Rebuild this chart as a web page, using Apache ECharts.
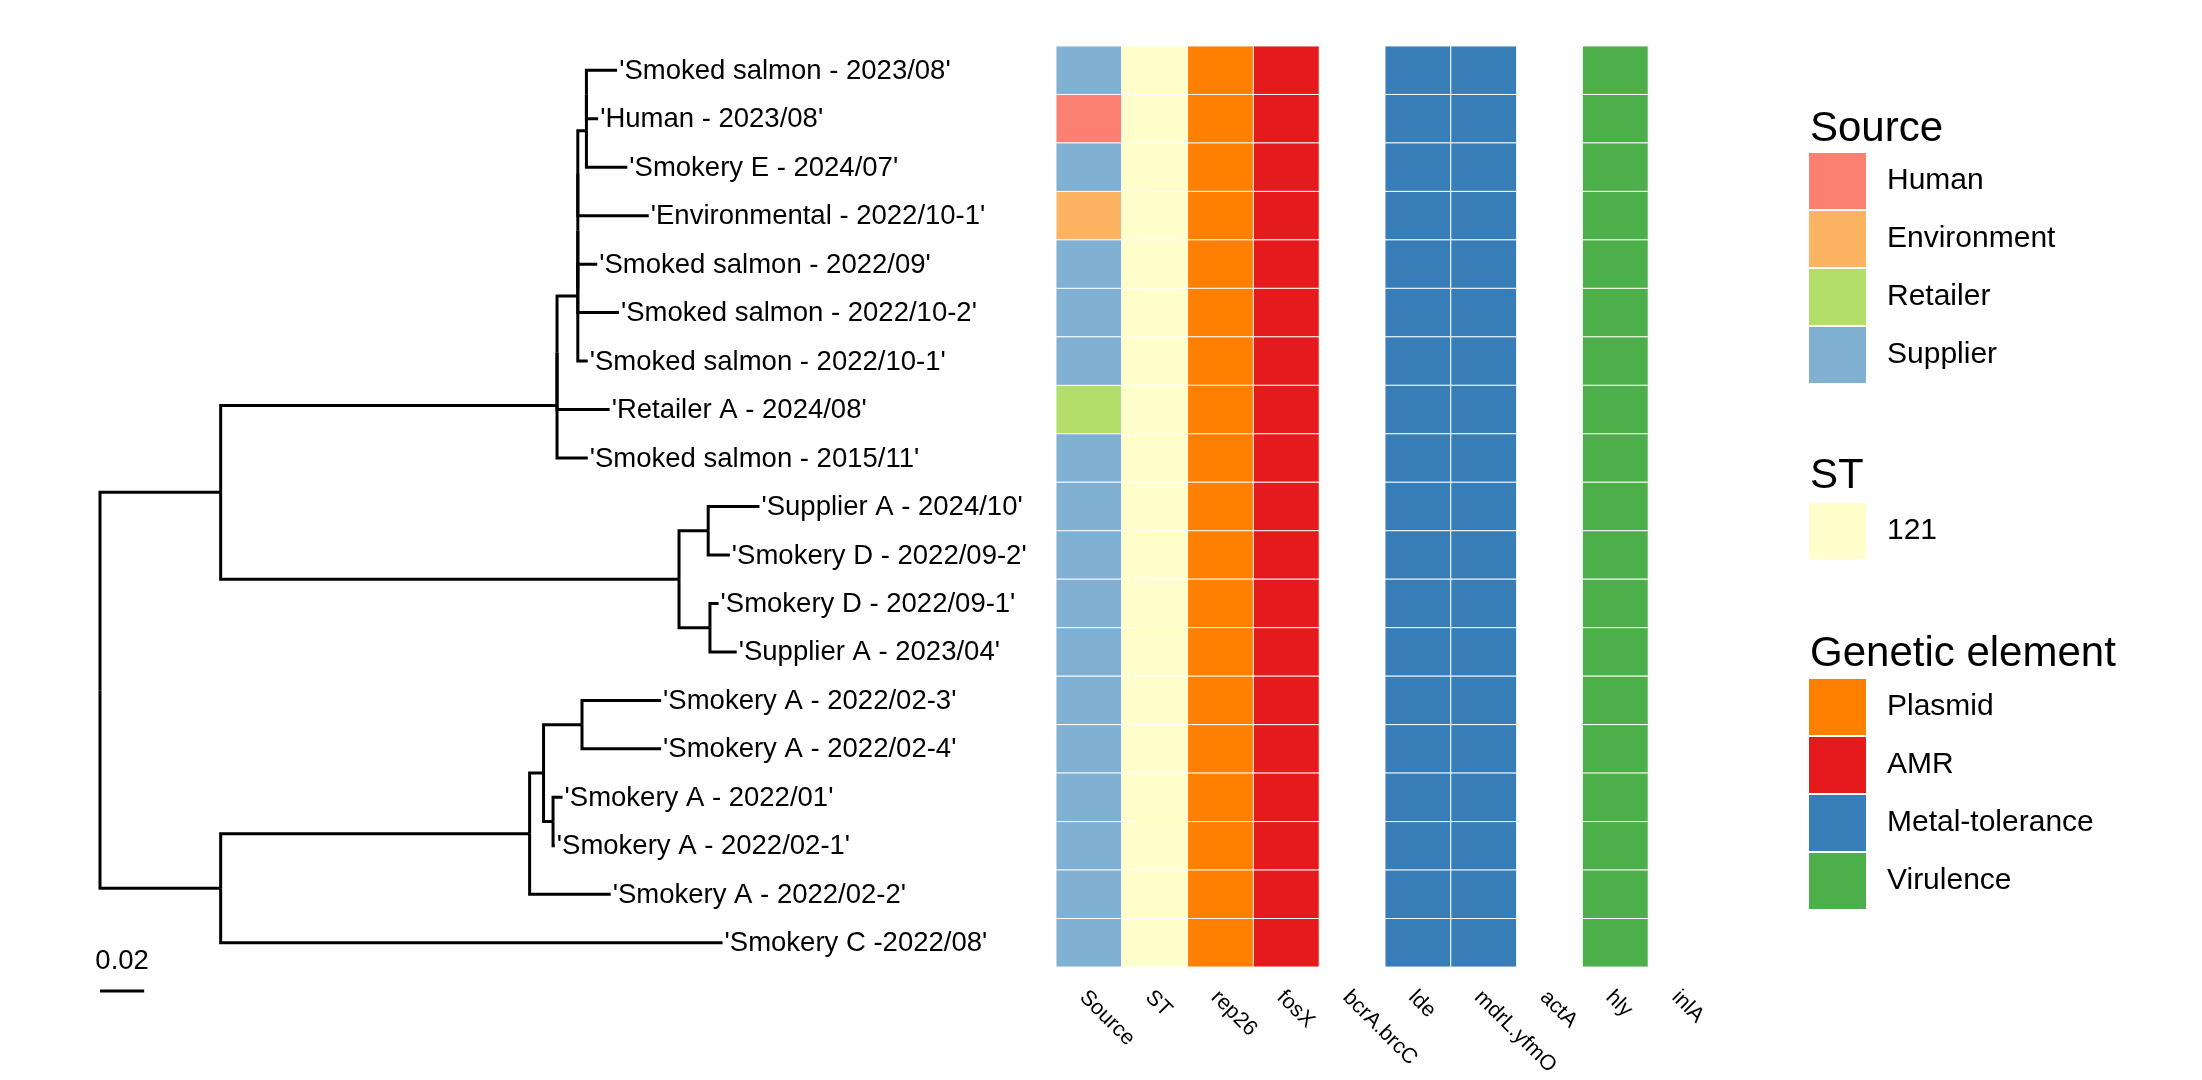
<!DOCTYPE html>
<html>
<head>
<meta charset="utf-8">
<script src="https://cdn.jsdelivr.net/npm/echarts@6/dist/echarts.min.js"></script>
<style>
html,body{margin:0;padding:0;background:#ffffff;}
#chart{width:2202px;height:1080px;}
</style>
</head>
<body>
<div id="chart"></div>
<script>
// ---------------- DATA ----------------
// Tip labels, in plotted row order (top to bottom)
const tipLabels = [
  "'Smoked salmon - 2023/08'",
  "'Human - 2023/08'",
  "'Smokery E - 2024/07'",
  "'Environmental - 2022/10-1'",
  "'Smoked salmon - 2022/09'",
  "'Smoked salmon - 2022/10-2'",
  "'Smoked salmon - 2022/10-1'",
  "'Retailer A - 2024/08'",
  "'Smoked salmon - 2015/11'",
  "'Supplier A - 2024/10'",
  "'Smokery D - 2022/09-2'",
  "'Smokery D - 2022/09-1'",
  "'Supplier A - 2023/04'",
  "'Smokery A - 2022/02-3'",
  "'Smokery A - 2022/02-4'",
  "'Smokery A - 2022/01'",
  "'Smokery A - 2022/02-1'",
  "'Smokery A - 2022/02-2'",
  "'Smokery C -2022/08'"
];
// Tree edges (child, parent, branch length); tips are t0..t18 (row index)
const edgeChild  = ['A','B','N1','X1','S1','P1','P2','P3','S2','P4','t0','t1','t2','t3','t4','t5','t6','t7','t8',
                    'C2','T1','T2','t9','t10','t11','t12',
                    'U1','U2','U3','U4','t13','t14','t15','t16','t17','t18'];
const edgeParent = ['root','root','A','N1','X1','S1','P1','P1','P2','S2','P4','P4','S2','P2','P3','P3','S1','X1','N1',
                    'A','C2','C2','T1','T1','T2','T2',
                    'B','U1','U2','U2','U3','U3','U4','U4','U1','B'];
const edgeLength = [0.0546,0.0546,0.1522,0,0.0094,0,0,0,0.0039,0,0.0139,0.0053,0.0185,0.0321,0.0088,0.0186,0.0045,0.0238,0.0139,
                    0.2074,0.0132,0.0140,0.0232,0.0098,0.0039,0.0121,
                    0.1398,0.0063,0.0174,0.0043,0.0358,0.0358,0.0043,0.0008,0.0367,0.2271];
const scaleBarLength = 0.02;
const scaleBarLabel = '0.02';

// Heatmap
const heatmapColumns = ['Source','ST','rep26','fosX','bcrA.brcC','lde','mdrL.yfmO','actA','hly','inlA'];
const sourceCategories = ['Human','Environment','Retailer','Supplier'];
const sourceColors = ['#FB8072','#FDB462','#B3DE69','#80B1D3'];
const sourceByTip = ['Supplier','Human','Supplier','Environment','Supplier','Supplier','Supplier','Retailer','Supplier',
                     'Supplier','Supplier','Supplier','Supplier','Supplier','Supplier','Supplier','Supplier','Supplier','Supplier'];
const stCategories = ['121'];
const stColors = ['#FFFFCC'];
const stByTip = ['121','121','121','121','121','121','121','121','121','121','121','121','121','121','121','121','121','121','121'];
const elementCategories = ['Plasmid','AMR','Metal-tolerance','Virulence'];
const elementColors = ['#FF7F00','#E41A1C','#377EB8','#4DAF4A'];
const geneColumns = ['rep26','fosX','bcrA.brcC','lde','mdrL.yfmO','actA','hly','inlA'];
const geneElement = ['Plasmid','AMR','Metal-tolerance','Metal-tolerance','Metal-tolerance','Virulence','Virulence','Virulence'];
const rep26Present   = [1,1,1,1,1,1,1,1,1,1,1,1,1,1,1,1,1,1,1];
const fosXPresent    = [1,1,1,1,1,1,1,1,1,1,1,1,1,1,1,1,1,1,1];
const bcrABrcCPresent= [0,0,0,0,0,0,0,0,0,0,0,0,0,0,0,0,0,0,0];
const ldePresent     = [1,1,1,1,1,1,1,1,1,1,1,1,1,1,1,1,1,1,1];
const mdrLYfmOPresent= [1,1,1,1,1,1,1,1,1,1,1,1,1,1,1,1,1,1,1];
const actAPresent    = [0,0,0,0,0,0,0,0,0,0,0,0,0,0,0,0,0,0,0];
const hlyPresent     = [1,1,1,1,1,1,1,1,1,1,1,1,1,1,1,1,1,1,1];
const inlAPresent    = [0,0,0,0,0,0,0,0,0,0,0,0,0,0,0,0,0,0,0];
const genePresence = [rep26Present,fosXPresent,bcrABrcCPresent,ldePresent,mdrLYfmOPresent,actAPresent,hlyPresent,inlAPresent];

// ---------------- TREE LAYOUT ----------------
const FONT = "'Liberation Sans', Arial, Helvetica, sans-serif";
const kids = {};
const lenOf = {};
edgeChild.forEach((c, i) => { (kids[edgeParent[i]] = kids[edgeParent[i]] || []).push(c); lenOf[c] = edgeLength[i]; });
const depth = { root: 0 };
const ypos = {};
function layout(node) {
  if (kids[node]) {
    let s = 0;
    kids[node].forEach(c => { depth[c] = depth[node] + lenOf[c]; layout(c); s += ypos[c]; });
    ypos[node] = s / kids[node].length;
  } else {
    ypos[node] = parseInt(node.slice(1), 10);
  }
}
layout('root');
const edgeData = edgeChild.map((c, i) => {
  const p = edgeParent[i];
  return [depth[p], ypos[p], depth[c], ypos[c]];
});
const tipData = tipLabels.map((l, i) => [depth['t' + i], i, i]);

// ---------------- HEATMAP DATA ----------------
const rows = tipLabels.map((_, i) => String(i));
const heatSeries = [];
function cellSeries(name, color, cells) {
  heatSeries.push({
    name: name, type: 'custom', xAxisIndex: 1, yAxisIndex: 1,
    itemStyle: { color: color },
    data: cells,
    renderItem: function (params, api) {
      const c = api.coord([api.value(0), api.value(1)]);
      const sz = api.size([1, 1]);
      return {
        type: 'rect',
        shape: { x: c[0] - sz[0] / 2, y: c[1] - sz[1] / 2, width: sz[0], height: sz[1] },
        style: { fill: color, stroke: '#ffffff', lineWidth: 0.9 }
      };
    }
  });
}
sourceCategories.forEach((cat, k) => {
  const cells = [];
  sourceByTip.forEach((s, i) => { if (s === cat) cells.push([0, i]); });
  cellSeries(cat, sourceColors[k], cells);
});
stCategories.forEach((cat, k) => {
  const cells = [];
  stByTip.forEach((s, i) => { if (s === cat) cells.push([1, i]); });
  cellSeries(cat, stColors[k], cells);
});
elementCategories.forEach((cat, k) => {
  const cells = [];
  geneColumns.forEach((g, gi) => {
    if (geneElement[gi] !== cat) return;
    const col = heatmapColumns.indexOf(g);
    genePresence[gi].forEach((v, i) => { if (v) cells.push([col, i]); });
  });
  cellSeries(cat, elementColors[k], cells);
});

// ---------------- CHART ----------------
const chart = echarts.init(document.getElementById('chart'), null, { renderer: 'canvas' });
const legendCommon = {
  orient: 'vertical', left: 1809, icon: 'rect', itemWidth: 57, itemHeight: 56, itemGap: 2,
  padding: 0, selectedMode: false,
  textStyle: { fontSize: 30, fontFamily: FONT, color: '#000000', padding: [8, 0, 0, 16] }
};
const option = {
  animation: false,
  backgroundColor: '#ffffff',
  grid: [
    { left: 100, top: 46, width: 663, height: 921 },
    { left: 1056, top: 46, width: 658, height: 921 }
  ],
  xAxis: [
    { type: 'value', gridIndex: 0, min: 0, max: 0.3, show: false },
    { type: 'category', gridIndex: 1, data: heatmapColumns, show: false }
  ],
  yAxis: [
    { type: 'value', gridIndex: 0, min: -0.5, max: 18.5, inverse: true, show: false },
    { type: 'category', gridIndex: 1, data: rows, inverse: true, show: false }
  ],
  legend: [
    Object.assign({}, legendCommon, { top: 153, data: sourceCategories.map((n, i) => ({ name: n, itemStyle: { color: sourceColors[i], borderWidth: 0 } })) }),
    Object.assign({}, legendCommon, { top: 503, data: stCategories.map((n, i) => ({ name: n, itemStyle: { color: stColors[i], borderWidth: 0 } })) }),
    Object.assign({}, legendCommon, { top: 679, data: elementCategories.map((n, i) => ({ name: n, itemStyle: { color: elementColors[i], borderWidth: 0 } })) })
  ],
  graphic: [
    { type: 'text', x: 1810, y: 129, style: { text: 'Source', fontSize: 42, fontFamily: FONT, fill: '#000', align: 'left', verticalAlign: 'middle' } },
    { type: 'text', x: 1810, y: 476, style: { text: 'ST', fontSize: 42, fontFamily: FONT, fill: '#000', align: 'left', verticalAlign: 'middle' } },
    { type: 'text', x: 1810, y: 654, style: { text: 'Genetic element', fontSize: 42, fontFamily: FONT, fill: '#000', align: 'left', verticalAlign: 'middle' } }
  ],
  series: [
    {
      name: 'tree', type: 'custom', xAxisIndex: 0, yAxisIndex: 0, clip: false,
      data: edgeData,
      renderItem: function (params, api) {
        const p0 = api.coord([api.value(0), api.value(1)]);
        const pc = api.coord([api.value(0), api.value(3)]);
        const p1 = api.coord([api.value(2), api.value(3)]);
        return {
          type: 'polyline',
          shape: { points: [p0, pc, p1] },
          style: { stroke: '#000000', lineWidth: 3, fill: null, lineJoin: 'miter', lineCap: 'butt' }
        };
      }
    },
    {
      name: 'tips', type: 'custom', xAxisIndex: 0, yAxisIndex: 0, clip: false,
      data: tipData,
      renderItem: function (params, api) {
        const p = api.coord([api.value(0), api.value(1)]);
        return {
          type: 'text', x: p[0] + 2, y: p[1] + 1,
          style: { text: tipLabels[api.value(2)], fontSize: 27.5, fontFamily: FONT, fill: '#000', align: 'left', verticalAlign: 'middle' }
        };
      }
    },
    {
      name: 'scale', type: 'custom', xAxisIndex: 0, yAxisIndex: 0, clip: false,
      data: [[0, scaleBarLength]],
      renderItem: function (params, api) {
        const a = api.coord([api.value(0), 18.5]);
        const b = api.coord([api.value(1), 18.5]);
        const y = a[1] + 24;
        return {
          type: 'group',
          children: [
            { type: 'line', shape: { x1: a[0], y1: y, x2: b[0], y2: y }, style: { stroke: '#000', lineWidth: 3.2 } },
            { type: 'text', x: (a[0] + b[0]) / 2, y: y - 30,
              style: { text: scaleBarLabel, fontSize: 27.5, fontFamily: FONT, fill: '#000', align: 'center', verticalAlign: 'middle' } }
          ]
        };
      }
    },
    ...heatSeries,
    {
      name: 'columnLabels', type: 'custom', xAxisIndex: 1, yAxisIndex: 1, clip: false,
      data: heatmapColumns.map((c, i) => [i, rows.length - 1]),
      renderItem: function (params, api) {
        const p = api.coord([api.value(0), api.value(1)]);
        const sz = api.size([1, 1]);
        return {
          type: 'text', x: p[0] - 6, y: p[1] + sz[1] / 2 + 27, rotation: -Math.PI / 4,
          style: { text: heatmapColumns[api.value(0)], fontSize: 21.5, fontFamily: FONT, fill: '#000', align: 'left', verticalAlign: 'middle' }
        };
      }
    }
  ]
};
chart.setOption(option);
</script>
</body>
</html>
